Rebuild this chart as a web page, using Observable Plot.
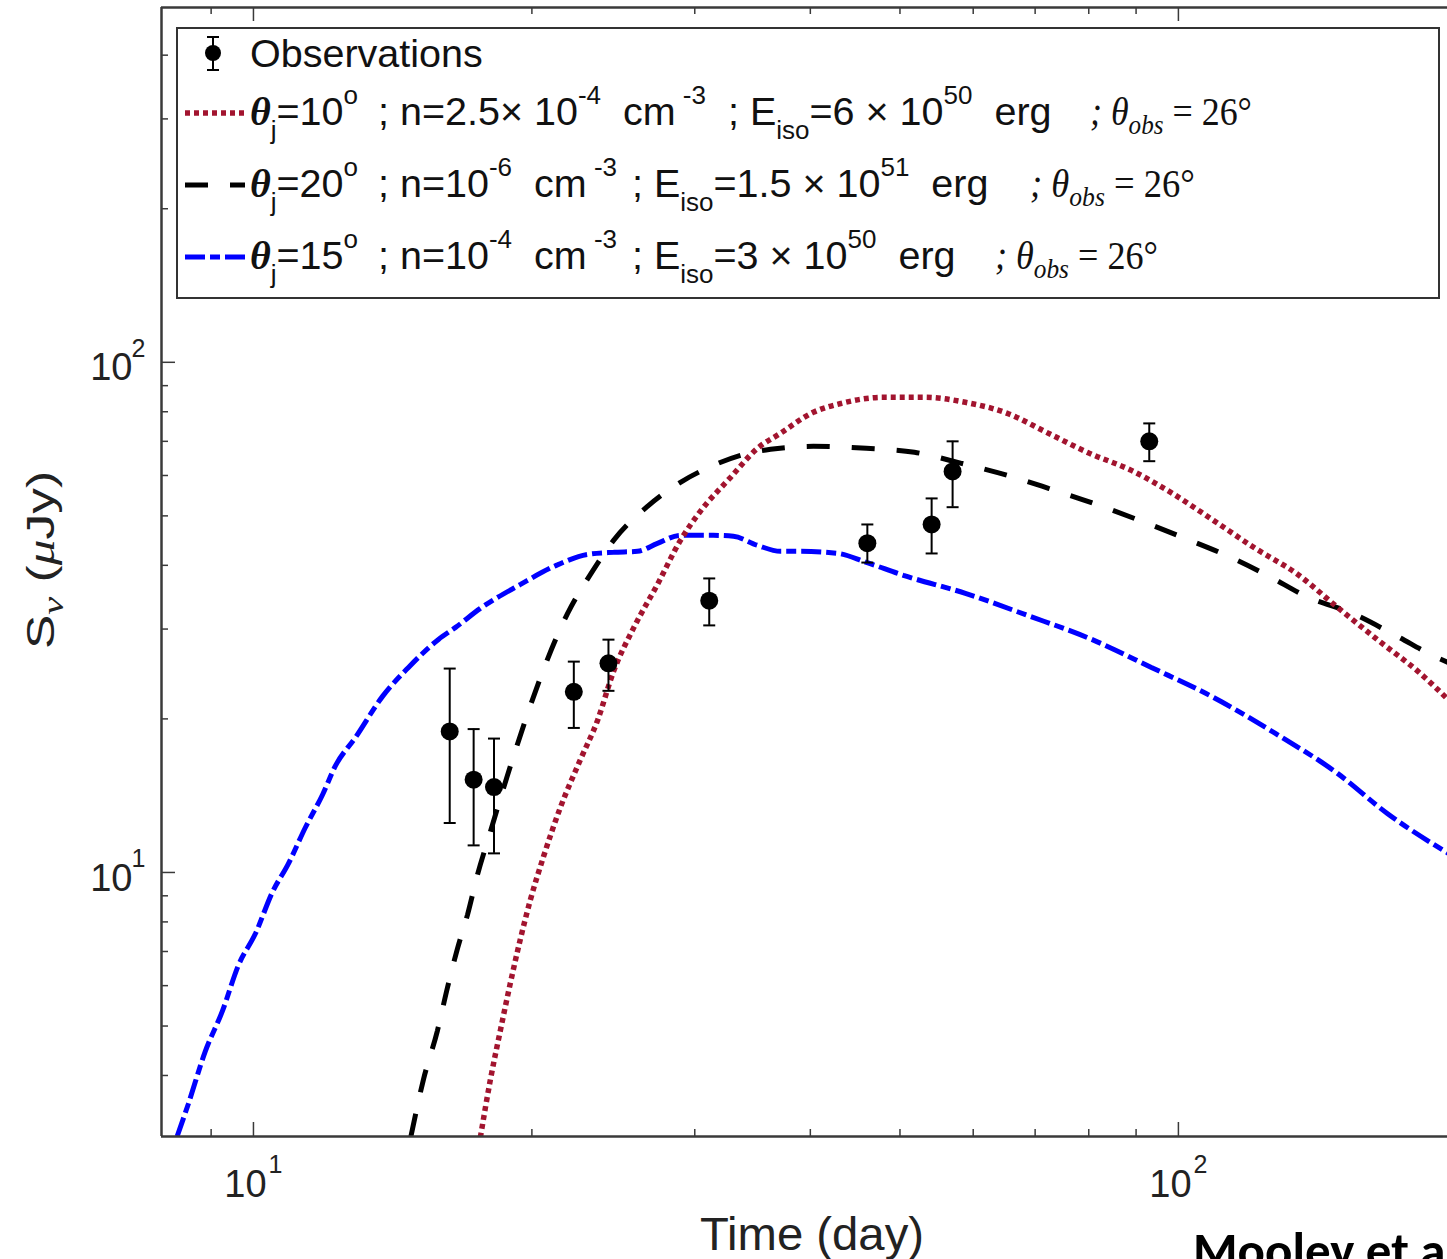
<!DOCTYPE html>
<html><head><meta charset="utf-8">
<script src="https://cdn.jsdelivr.net/npm/d3@7"></script>
<script src="https://cdn.jsdelivr.net/npm/@observablehq/plot@0.6"></script>
<style>
body{margin:0;background:#fff;}
#wrap{position:relative;width:1447px;height:1259px;overflow:hidden;background:#fff;}
</style></head><body><div id="wrap"></div>
<script>
// ---- Observations (GW170817 radio afterglow) ----
const obsT  = [16.3, 17.3, 18.2, 22.2, 24.2, 31.1, 46.1, 54.1, 57.0, 93.0];
const obsS  = [18.9, 15.2, 14.7, 22.6, 25.7, 34.1, 44.2, 48.1, 61.1, 70.0];
const obsLo = [12.5, 11.3, 10.9, 19.2, 22.7, 30.5, 40.5, 42.2, 52.0, 64.0];
const obsHi = [25.1, 19.1, 18.3, 25.9, 28.6, 37.7, 48.1, 54.1, 70.0, 75.9];

// ---- Model 1: theta_j=10 (red dotted) ----
const redT = [17.59,18.04,18.49,18.96,19.44,19.93,20.59,21.47,22.57,23.55,24.51,25.75,27.34,28.95,30.42,32.8,35.07,37.13,40.30,43.22,47.99,53.13,58.84,65.33,72.36,80.13,88.96,98.5,109.1,121.1,134.1,148.6,164.5,182.6,195.8];
const redS = [3.02,3.93,4.90,6.08,7.42,8.85,10.75,13.41,16.65,19.86,24.79,30.09,36.7,44.77,51.04,59.5,67.83,72.58,79.8,83.1,85.4,85.4,83.48,79.43,72.58,66.33,61.4,55.35,49.0,43.18,38.57,33.08,28.5,24.56,21.8];

// ---- Model 2: theta_j=20 (black dashed) ----
const blackT = [14.80,15.27,15.81,16.21,16.62,17.04,17.46,18.04,18.63,19.29,19.93,20.79,21.86,23.14,24.51,26.67,28.95,31.42,33.61,36.23,40.30,45.99,51.83,58.26,65.33,72.36,80.93,90.74,101.0,112.7,124.8,138.2,154.2,171.7,190.1,195.8];
const blackS = [3.04,3.93,4.90,5.95,7.10,8.27,9.87,12.03,14.61,17.82,21.26,26.17,32.2,38.4,44.77,52.2,58.18,62.8,65.72,67.52,68.44,67.83,66.62,63.39,60.03,56.62,52.91,49.0,45.39,41.83,38.23,34.61,32.2,29.15,26.41,25.8];

// ---- Model 3: theta_j=15 (blue dash-dot) ----
const blueT = [8.27,8.50,8.87,9.26,9.63,10.05,10.48,10.91,11.38,11.88,12.27,12.89,13.79,14.71,15.85,16.54,17.59,19.44,21.31,22.97,24.51,26.01,27.34,28.95,31.42,33.03,35.07,37.13,39.03,42.80,45.99,50.43,58.84,68.68,80.13,93.5,109.1,127.3,148.6,168.2,195.8];
const blueS = [3.04,3.51,4.46,5.36,6.57,7.59,9.14,10.41,12.25,14.22,16.21,18.39,22.14,25.23,28.63,30.23,32.93,36.7,40.08,42.03,42.42,42.6,44.17,45.8,45.8,45.6,43.77,42.6,42.6,42.23,40.53,38.23,35.25,31.91,28.76,25.23,22.04,18.73,15.64,13.05,10.9];

// ---- Axes ----
const xDomain = [7.954, 195.4];
const yDomain = [3.037, 496];
const xMajor = [10, 100];
const xMinor = [9, 20, 30, 40, 50, 60, 70, 80, 90];
const yMajor = [10, 100];
const yMinor = [4, 5, 6, 7, 8, 9, 20, 30, 40, 50, 60, 70, 80, 90, 200, 300, 400];

const W = 1447, H = 1259, mL = 161, mT = 7, mB = 123, mR = 0;
const plotW = W - mL - mR, plotH = H - mT - mB;

const obs = obsT.map((t, i) => ({t, s: obsS[i], lo: obsLo[i], hi: obsHi[i]}));
const series = (T, S) => T.map((t, i) => ({t, s: S[i]}));
const red = series(redT, redS), black = series(blackT, blackS), blue = series(blueT, blueS);

const capSymbol = {draw(ctx, size) { const r = Math.sqrt(size / Math.PI); ctx.moveTo(-r, 0); ctx.lineTo(r, 0); }};
const AX = "#3a3a3a", TXT = "#222";
const lineOpts = {x: "t", y: "s", strokeWidth: 5, strokeLinecap: "butt", strokeLinejoin: "miter", curve: "monotone-x", clip: true};

const chart = Plot.plot({
  width: W, height: H, marginLeft: mL, marginTop: mT, marginBottom: mB, marginRight: mR,
  x: {type: "log", domain: xDomain, axis: null},
  y: {type: "log", domain: yDomain, axis: null},
  style: {background: "white", fontFamily: "'Liberation Sans', Arial, sans-serif"},
  marks: [
    Plot.line(blue, {...lineOpts, stroke: "#0000ff", strokeDasharray: "20,5,10,5"}),
    Plot.line(black, {...lineOpts, stroke: "#000", strokeDasharray: "23,22"}),
    Plot.line(red, {...lineOpts, stroke: "#A2142F", strokeWidth: 5.5, strokeDasharray: "5,4"}),
    Plot.ruleX(obs, {x: "t", y1: "lo", y2: "hi", stroke: "#000", strokeWidth: 2}),
    Plot.dot(obs, {x: "t", y: "lo", r: 6, symbol: capSymbol, stroke: "#000", strokeWidth: 2}),
    Plot.dot(obs, {x: "t", y: "hi", r: 6, symbol: capSymbol, stroke: "#000", strokeWidth: 2}),
    Plot.dot(obs, {x: "t", y: "s", r: 9, fill: "#000", stroke: "none"}),
    // frame lines
    Plot.ruleX([xDomain[0]], {stroke: AX, strokeWidth: 2.5}),
    Plot.ruleY([yDomain[0], yDomain[1]], {stroke: AX, strokeWidth: 2.5}),
    // ticks (inside, MATLAB style)
    Plot.tickX(xMinor, {x: d => d, insetTop: plotH - 7, stroke: AX, strokeWidth: 1.5}),
    Plot.tickX(xMajor, {x: d => d, insetTop: plotH - 14, stroke: AX, strokeWidth: 1.5}),
    Plot.tickX(xMinor, {x: d => d, insetBottom: plotH - 7, stroke: AX, strokeWidth: 1.5}),
    Plot.tickX(xMajor, {x: d => d, insetBottom: plotH - 14, stroke: AX, strokeWidth: 1.5}),
    Plot.tickY(yMinor, {y: d => d, insetRight: plotW - 7, stroke: AX, strokeWidth: 1.5}),
    Plot.tickY(yMajor, {y: d => d, insetRight: plotW - 14, stroke: AX, strokeWidth: 1.5}),
    // tick labels
    Plot.text(xMajor, {x: d => d, frameAnchor: "bottom", text: () => "10", dx: -8, dy: 48, fontSize: 38, fill: TXT, lineAnchor: "middle"}),
    Plot.text(xMajor, {x: d => d, frameAnchor: "bottom", text: d => String(Math.round(Math.log10(d))), textAnchor: "start", dx: 15, dy: 28, fontSize: 25, fill: TXT, lineAnchor: "middle"}),
    Plot.text(yMajor, {y: d => d, frameAnchor: "left", text: () => "10", textAnchor: "end", dx: -29, dy: 6, fontSize: 38, fill: TXT, lineAnchor: "middle"}),
    Plot.text(yMajor, {y: d => d, frameAnchor: "left", text: d => String(Math.round(Math.log10(d))), textAnchor: "start", dx: -30, dy: -13, fontSize: 25, fill: TXT, lineAnchor: "middle"})
  ]
});
document.getElementById("wrap").appendChild(chart);

const svg = d3.select(chart);
const SANS = "'Liberation Sans', Arial, sans-serif";
const SERIF = "'Liberation Serif', 'Times New Roman', serif";

// axis titles
svg.append("text").attr("x", 812).attr("y", 1250).attr("text-anchor", "middle")
  .attr("font-family", SANS).attr("font-size", 46).attr("fill", TXT)
  .attr("textLength", 224).attr("lengthAdjust", "spacingAndGlyphs").text("Time (day)");
const yt = svg.append("text").attr("transform", "translate(54,560) rotate(-90)").attr("text-anchor", "middle")
  .attr("font-family", SANS).attr("font-size", 38).attr("fill", TXT).style("white-space", "pre")
  .attr("textLength", 178).attr("lengthAdjust", "spacingAndGlyphs");
yt.append("tspan").text("S");
yt.append("tspan").attr("dy", 9).attr("font-size", 30).attr("font-style", "italic").attr("font-family", SERIF).text("ν");
yt.append("tspan").attr("dy", -9).text(" (");
yt.append("tspan").attr("font-style", "italic").attr("font-family", SERIF).text("μ");
yt.append("tspan").text("Jy)");

// source note (cut at bottom/right edge as in reference)
svg.append("text").attr("x", 1193).attr("y", 1268).attr("text-anchor", "start")
  .attr("font-family", "Carlito, 'Liberation Sans', Arial, sans-serif")
  .attr("font-weight", "bold").attr("font-size", 51).attr("fill", "#000").text("Mooley et al.");

// ---- legend ----
const lg = svg.append("g").attr("text-anchor", "start");
lg.append("rect").attr("x", 177).attr("y", 28).attr("width", 1262).attr("height", 270)
  .attr("fill", "white").attr("stroke", "#333").attr("stroke-width", 2);
// observation swatch
lg.append("line").attr("x1", 213).attr("x2", 213).attr("y1", 37).attr("y2", 70).attr("stroke", "#000").attr("stroke-width", 2);
lg.append("line").attr("x1", 207).attr("x2", 219).attr("y1", 37).attr("y2", 37).attr("stroke", "#000").attr("stroke-width", 2);
lg.append("line").attr("x1", 207).attr("x2", 219).attr("y1", 70).attr("y2", 70).attr("stroke", "#000").attr("stroke-width", 2);
lg.append("circle").attr("cx", 213).attr("cy", 53).attr("r", 8).attr("fill", "#000");
lg.append("text").attr("x", 250).attr("y", 67).attr("text-anchor", "start").attr("font-family", SANS).attr("font-size", 39.5).attr("fill", "#111").text("Observations");
// line swatches
lg.append("line").attr("x1", 185).attr("x2", 245).attr("y1", 113).attr("y2", 113).attr("stroke", "#A2142F").attr("stroke-width", 5.5).attr("stroke-dasharray", "5,4");
lg.append("line").attr("x1", 185).attr("x2", 245).attr("y1", 185).attr("y2", 185).attr("stroke", "#000").attr("stroke-width", 5).attr("stroke-dasharray", "23,22");
lg.append("line").attr("x1", 185).attr("x2", 245).attr("y1", 257).attr("y2", 257).attr("stroke", "#0000ff").attr("stroke-width", 5).attr("stroke-dasharray", "20,5,10,5");

function rich(x, y, parts, opt) {
  const t = lg.append("text").attr("x", x).attr("y", y).attr("text-anchor", "start").attr("font-family", opt.family)
    .attr("font-size", opt.size).attr("fill", "#111").style("white-space", "pre");
  if (opt.italic) t.attr("font-style", "italic");
  if (opt.len) t.attr("textLength", opt.len).attr("lengthAdjust", "spacingAndGlyphs");
  let shift = 0;
  for (const [s, kind, extra] of parts) {
    const target = kind === "sup" ? -opt.up : kind === "sub" ? opt.down : 0;
    const ts = t.append("tspan").attr("dy", target - shift).text(s);
    shift = target;
    if (kind !== "n") ts.attr("font-size", opt.small);
    if (extra) for (const k in extra) ts.attr(k, extra[k]);
  }
}
const sansOpt = {family: SANS, size: 39.5, small: 26, up: 21, down: 14};
const thetaStyle = {"font-family": SERIF, "font-style": "italic", "font-weight": "bold", "font-size": 40};
const serifOpt = (len) => ({family: SERIF, size: 40, small: 28, up: 0, down: 9, italic: true, len});

const rows = [
  {y: 125, theta: "=10", b: [["; n=2.5× 10", "n"], ["-4", "sup"], ["  cm", "n"], [" -3", "sup"]],
   cx: 728, c: [["; E", "n"], ["iso", "sub"], ["=6 × 10", "n"], ["50", "sup"], ["  erg", "n"]], dx: 1090, dlen: 162},
  {y: 197, theta: "=20", b: [["; n=10", "n"], ["-6", "sup"], ["  cm", "n"], [" -3", "sup"]],
   cx: 632, c: [["; E", "n"], ["iso", "sub"], ["=1.5 × 10", "n"], ["51", "sup"], ["  erg", "n"]], dx: 1030, dlen: 165},
  {y: 269, theta: "=15", b: [["; n=10", "n"], ["-4", "sup"], ["  cm", "n"], [" -3", "sup"]],
   cx: 632, c: [["; E", "n"], ["iso", "sub"], ["=3 × 10", "n"], ["50", "sup"], ["  erg", "n"]], dx: 995, dlen: 163}
];
for (const r of rows) {
  rich(250, r.y, [["θ", "n", thetaStyle], ["j", "sub"], [r.theta, "n"], ["o", "sup"]], sansOpt);
  rich(378, r.y, r.b, sansOpt);
  rich(r.cx, r.y, r.c, sansOpt);
  rich(r.dx, r.y, [["; θ", "n"], ["obs", "sub"], [" = 26°", "n", {"font-style": "normal"}]], serifOpt(r.dlen));
}
</script>
</body></html>
